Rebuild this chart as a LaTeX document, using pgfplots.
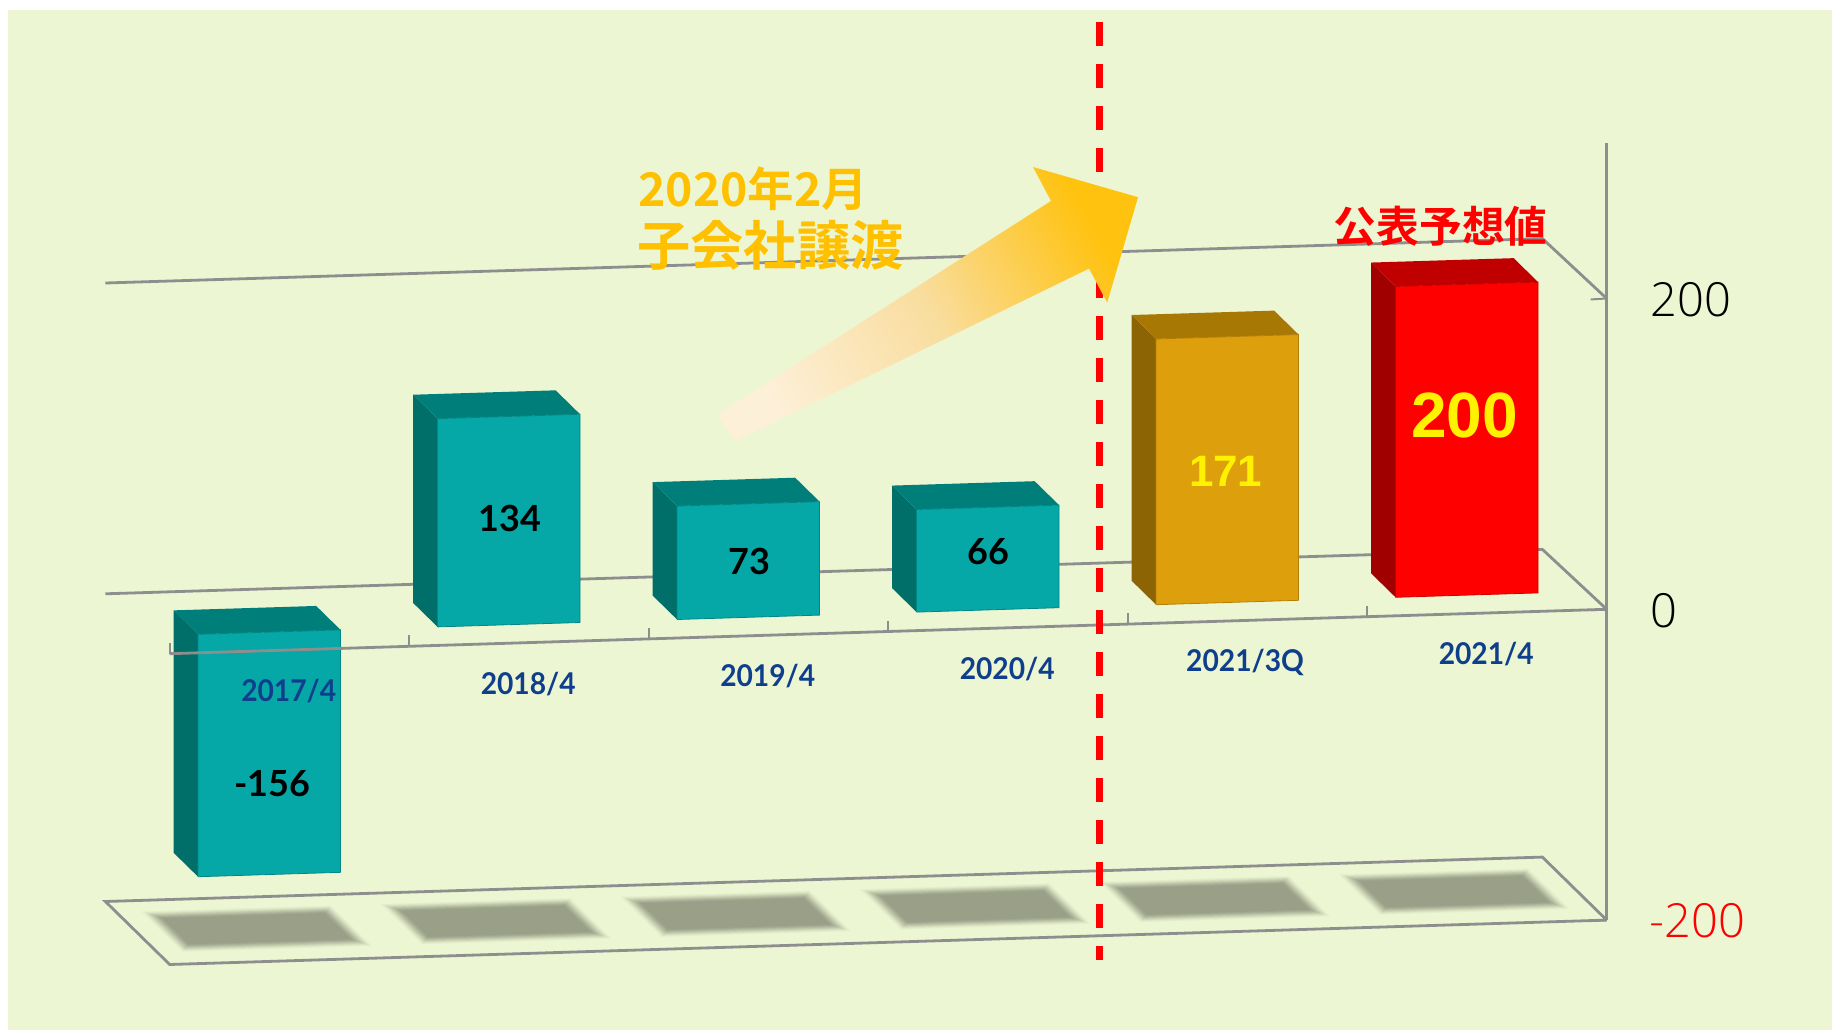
\documentclass[border=0pt]{standalone}
\usepackage{fontspec}
\setmainfont{Lato}
\newfontfamily\cjk{Noto Sans CJK JP}[BoldFont={Noto Sans CJK JP Bold}]
\newfontfamily\thin{Open Sans Light}
\newfontfamily\arialb{Liberation Sans}
\newfontfamily\catf{Lato}[FakeStretch=0.94]
\usepackage{pgfplots}
\pgfplotsset{compat=1.18}
\definecolor{bg}{HTML}{EDF6D3}
\definecolor{axisgray}{HTML}{8E8E8E}
\definecolor{shadowc}{HTML}{9AA088}
\definecolor{tealF}{HTML}{05A8A6}
\definecolor{tealS}{HTML}{006F6A}
\definecolor{tealT}{HTML}{007F7A}
\definecolor{goldF}{HTML}{DE9F0C}
\definecolor{goldS}{HTML}{8C6404}
\definecolor{goldT}{HTML}{A87804}
\definecolor{redF}{HTML}{FF0000}
\definecolor{redS}{HTML}{A00000}
\definecolor{redT}{HTML}{C00000}
\definecolor{catblue}{HTML}{0F3F8C}
\definecolor{amber}{HTML}{FFC000}
\definecolor{arrowA}{HTML}{FDF0D8}
\definecolor{arrowM}{HTML}{F9DD9E}
\definecolor{arrowB}{HTML}{FFC20E}
% cat, top, bottom, front, side, top face
\newcommand{\solidbar}[6]{%
  \addplot3[fill=#5,draw=none] coordinates {({#1+0.195},0.285,#2) ({#1+0.195},0.665,#2) ({#1+0.195},0.665,#3) ({#1+0.195},0.285,#3) ({#1+0.195},0.285,#2)};
  \addplot3[fill=#6,draw=none] coordinates {({#1+0.195},0.285,#2) ({#1+0.79},0.285,#2) ({#1+0.79},0.665,#2) ({#1+0.195},0.665,#2) ({#1+0.195},0.285,#2)};
  \addplot3[fill=#4,draw=#4!80!black,line width=0.4pt] coordinates {({#1+0.195},0.285,#3) ({#1+0.79},0.285,#3) ({#1+0.79},0.285,#2) ({#1+0.195},0.285,#2) ({#1+0.195},0.285,#3)};
}
% cat, x inset, depth inset, mix
\newcommand{\shadowlayer}[4]{%
  \addplot3[fill=shadowc!#4!bg,draw=none] coordinates {({#1+0.105+#2},{0.19+#3},-200) ({#1+0.895-#2},{0.19+#3},-200) ({#1+0.895-#2},{0.83-#3},-200) ({#1+0.105+#2},{0.83-#3},-200) ({#1+0.105+#2},{0.19+#3},-200)};
}
\newcommand{\shadowpatch}[1]{%
  \shadowlayer{#1}{0}{0}{8}\shadowlayer{#1}{0.008}{0.016}{20}\shadowlayer{#1}{0.016}{0.032}{35}%
  \shadowlayer{#1}{0.024}{0.048}{50}\shadowlayer{#1}{0.032}{0.064}{65}\shadowlayer{#1}{0.04}{0.08}{80}%
  \shadowlayer{#1}{0.048}{0.096}{92}\shadowlayer{#1}{0.056}{0.112}{100}%
}
\begin{document}
\begin{tikzpicture}
\path[use as bounding box] (0,0) rectangle (916pt,-515.5pt);
\fill[white] (0,0) rectangle (916pt,-515.5pt);
\fill[bg] (4pt,-5pt) rectangle (916pt,-515pt);
\begin{axis}[
  at={(84.85pt,-326.85pt)}, anchor=origin,
  x={(119.75pt,3.7pt)}, y={(-32.15pt,31.5pt)}, z={(0pt,0.777pt)},
  xmin=0, xmax=6, ymin=0, ymax=1, zmin=-200, zmax=300,
  hide axis, clip=false, no marks,
  every axis plot/.append style={line join=miter},
]
% floor
\addplot3[axisgray,line width=1.4pt] coordinates {(6,0,-200) (0,0,-200) (0,1,-200) (6,1,-200) (6,0,-200)};
\shadowpatch{0}\shadowpatch{1}\shadowpatch{2}\shadowpatch{3}\shadowpatch{4}\shadowpatch{5}
% back wall lines and right edges
\addplot3[axisgray,line width=1.4pt] coordinates {(0,1,-2) (6,1,-2) (6,0,0)};
\addplot3[axisgray,line width=1.4pt] coordinates {(0,1,198) (6,1,198) (6,0,200)};
% value axis with its ticks
\addplot3[axisgray,line width=1.4pt] coordinates {(6,0,-200) (6,0,300)};
\addplot3[axisgray,line width=1pt] coordinates {(6,0,200) (5.933,0,199.7)};
\addplot3[axisgray,line width=1pt] coordinates {(6,0,0) (5.933,0,-0.3)};
\addplot3[axisgray,line width=1pt] coordinates {(6,0,-200) (5.933,0,-200.3)};
% bars
\solidbar{1}{134}{0}{tealF}{tealS}{tealT}
\solidbar{2}{73}{0}{tealF}{tealS}{tealT}
\solidbar{3}{66}{0}{tealF}{tealS}{tealT}
\solidbar{4}{171}{0}{goldF}{goldS}{goldT}
\solidbar{5}{200}{0}{redF}{redS}{redT}
\solidbar{0}{0}{-156}{tealF}{tealS}{tealT}
% category axis
\addplot3[axisgray,line width=1.4pt] coordinates {(0,0,0) (6,0,0)};
\addplot3[axisgray,line width=1pt] coordinates {(0,0,0) (0,0,7)};
\addplot3[axisgray,line width=1pt] coordinates {(1,0,0) (1,0,7)};
\addplot3[axisgray,line width=1pt] coordinates {(2,0,0) (2,0,7)};
\addplot3[axisgray,line width=1pt] coordinates {(3,0,0) (3,0,7)};
\addplot3[axisgray,line width=1pt] coordinates {(4,0,0) (4,0,7)};
\addplot3[axisgray,line width=1pt] coordinates {(5,0,0) (5,0,7)};
% category names
\tikzset{cat/.style={font=\catf\fontsize{15}{18}\selectfont\bfseries,text=catblue,inner sep=0pt}}
\node[cat] at (axis cs:0.497,0,-26.5) {2017/4};
\node[cat] at (axis cs:1.497,0,-26.5) {2018/4};
\node[cat] at (axis cs:2.497,0,-26) {2019/4};
\node[cat] at (axis cs:3.497,0,-26.5) {2020/4};
\node[cat] at (axis cs:4.49,0,-27) {2021/3Q};
\node[cat] at (axis cs:5.497,0,-26.5) {2021/4};
% values
\tikzset{val/.style={font=\fontsize{18}{20}\selectfont\bfseries,text=black,inner sep=0pt}}
\node[val] at (axis cs:0.51,0.3,-98) {-156};
\node[val] at (axis cs:1.5,0.3,68) {134};
\node[val] at (axis cs:2.5,0.3,35.5) {73};
\node[val] at (axis cs:3.5,0.3,37) {66};
\node[font=\arialb\fontsize{22}{24}\selectfont\bfseries,text=yellow,inner sep=0pt] at (axis cs:4.49,0.3,84) {171};
\node[font=\arialb\fontsize{32}{36}\selectfont\bfseries,text=yellow,inner sep=0pt] at (axis cs:5.487,0.3,115) {200};
\end{axis}
% value axis numbers
\tikzset{num/.style={font=\thin\fontsize{23.5}{26}\selectfont,anchor=west,inner sep=0pt}}
\node[num] at (825pt,-150pt) {200};
\node[num] at (825pt,-305.5pt) {0};
\node[num,text=red] at (824.5pt,-460.5pt) {-200};
% dashed divider
\draw[red,line width=3.4pt,dash pattern=on 12pt off 9pt] (549.7pt,-11pt) -- (549.7pt,-480pt);
% arrow
\path[bottom color=arrowA,top color=arrowB,middle color=arrowM,shading angle=-60.7]
  (358.3pt,-207.5pt) -- (525.5pt,-100.5pt) -- (516.5pt,-83.5pt) -- (569pt,-98.6pt)
  -- (553.6pt,-151.3pt) -- (544.5pt,-134.3pt) -- (367.8pt,-220.5pt) -- cycle;
% annotations
\node[font=\cjk\fontsize{23.2}{26}\selectfont\bfseries,text=amber,anchor=west,inner sep=0pt] at (319pt,-94.5pt) {2020年2月};
\node[font=\cjk\fontsize{26.6}{30}\selectfont\bfseries,text=amber,anchor=west,inner sep=0pt] at (318.5pt,-122.5pt) {子会社譲渡};
\node[font=\cjk\fontsize{21.4}{24}\selectfont\bfseries,text=red,anchor=east,inner sep=0pt] at (774pt,-113.4pt) {公表予想値};
\end{tikzpicture}
\end{document}
